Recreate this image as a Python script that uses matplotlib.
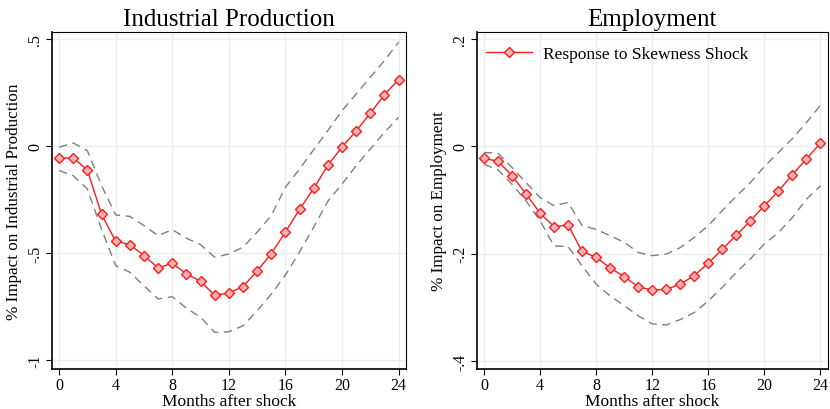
import numpy as np
import matplotlib
matplotlib.use("Agg")
import matplotlib.pyplot as plt

plt.rcParams["font.family"] = ["Liberation Serif", "DejaVu Serif"]

months = np.arange(25)

# Industrial production: point estimate and confidence band
ip_resp = [-0.056, -0.056, -0.112, -0.319, -0.445, -0.461, -0.512, -0.570, -0.548,
           -0.598, -0.632, -0.698, -0.687, -0.657, -0.584, -0.503, -0.402, -0.296,
           -0.198, -0.090, -0.005, 0.070, 0.153, 0.240, 0.310]
ip_upper = [-0.006, 0.014, -0.022, -0.185, -0.322, -0.329, -0.372, -0.419, -0.391,
            -0.431, -0.461, -0.520, -0.505, -0.473, -0.403, -0.325, -0.193, -0.107,
            -0.017, 0.072, 0.165, 0.243, 0.321, 0.399, 0.485]
ip_lower = [-0.115, -0.139, -0.201, -0.388, -0.559, -0.590, -0.653, -0.715, -0.704,
            -0.758, -0.800, -0.871, -0.868, -0.840, -0.770, -0.692, -0.603, -0.495,
            -0.379, -0.258, -0.178, -0.092, -0.014, 0.064, 0.134]

# Employment
emp_resp = [-0.023, -0.028, -0.055, -0.089, -0.125, -0.150, -0.147, -0.196, -0.207,
            -0.227, -0.243, -0.262, -0.268, -0.267, -0.257, -0.241, -0.218, -0.192,
            -0.166, -0.139, -0.111, -0.084, -0.053, -0.024, 0.006]
emp_upper = [-0.012, -0.013, -0.040, -0.068, -0.096, -0.111, -0.105, -0.148, -0.155,
             -0.167, -0.179, -0.198, -0.204, -0.201, -0.189, -0.170, -0.148, -0.120,
             -0.093, -0.068, -0.038, -0.012, 0.014, 0.044, 0.076]
emp_lower = [-0.034, -0.044, -0.071, -0.102, -0.139, -0.186, -0.187, -0.223, -0.257,
             -0.279, -0.297, -0.316, -0.331, -0.333, -0.323, -0.310, -0.288, -0.263,
             -0.235, -0.210, -0.182, -0.161, -0.133, -0.099, -0.074]

x_ticks = [0, 4, 8, 12, 16, 20, 24]
ip_yticks = [-1, -0.5, 0, 0.5]
ip_ylabels = ["-1", "-.5", "0", ".5"]
emp_yticks = [-0.4, -0.2, 0, 0.2]
emp_ylabels = ["-.4", "-.2", "0", ".2"]

RED = "#ff1a1a"
PINK = "#f8b4b4"
GRID = "#e6eef0"


def draw_panel(ax, resp, upper, lower, title, ylabel, yticks, ylabels, ylim):
    for t in x_ticks:
        ax.axvline(t, color=GRID, lw=1.0, zorder=0)
    for t in yticks:
        ax.axhline(t, color=GRID, lw=1.0, zorder=0)
    ax.plot(months, upper, color="#808080", lw=1.0, ls=(0, (6, 4)), zorder=2)
    ax.plot(months, lower, color="#808080", lw=1.0, ls=(0, (6, 4)), zorder=2)
    ax.plot(months, resp, color=RED, lw=1.0, marker="D", ms=5.5,
            mfc=PINK, mec=RED, mew=1.0, zorder=3,
            label="Response to Skewness Shock")
    ax.set_xlim(-0.52, 24.5)
    ax.set_ylim(*ylim)
    ax.set_xticks(x_ticks)
    ax.set_xticklabels([str(t) for t in x_ticks], fontsize=11.5)
    ax.set_yticks(yticks)
    ax.set_yticklabels(ylabels, fontsize=11.5, rotation=90, va="center")
    ax.tick_params(direction="out", length=4, width=0.8, pad=2)
    ax.set_xlabel("Months after shock", fontsize=12.5, labelpad=0)
    ax.set_ylabel(ylabel, fontsize=12.3, labelpad=4)
    ax.set_title(title, fontsize=18, pad=5)
    for s in ax.spines.values():
        s.set_color("black")
        s.set_linewidth(0.8)
    ax.spines["left"].set_linewidth(1.2)
    ax.spines["bottom"].set_linewidth(1.2)


fig = plt.figure(figsize=(8.3, 4.1), dpi=100)
ax1 = fig.add_axes([0.0623, 0.0976, 0.4265, 0.8227])
ax2 = fig.add_axes([0.5743, 0.0976, 0.4227, 0.8227])

draw_panel(ax1, ip_resp, ip_upper, ip_lower, "Industrial Production",
           "% Impact on Industrial Production", ip_yticks, ip_ylabels, (-1.042, 0.534))
draw_panel(ax2, emp_resp, emp_upper, emp_lower, "Employment",
           "% Impact on Employment", emp_yticks, emp_ylabels, (-0.415, 0.213))

ax2.legend(loc="upper left", bbox_to_anchor=(-0.012, 1.0), frameon=False,
           fontsize=12.5, handlelength=2.65, handletextpad=0.63, borderaxespad=0.4)

fig.savefig("out.png", dpi=100)
